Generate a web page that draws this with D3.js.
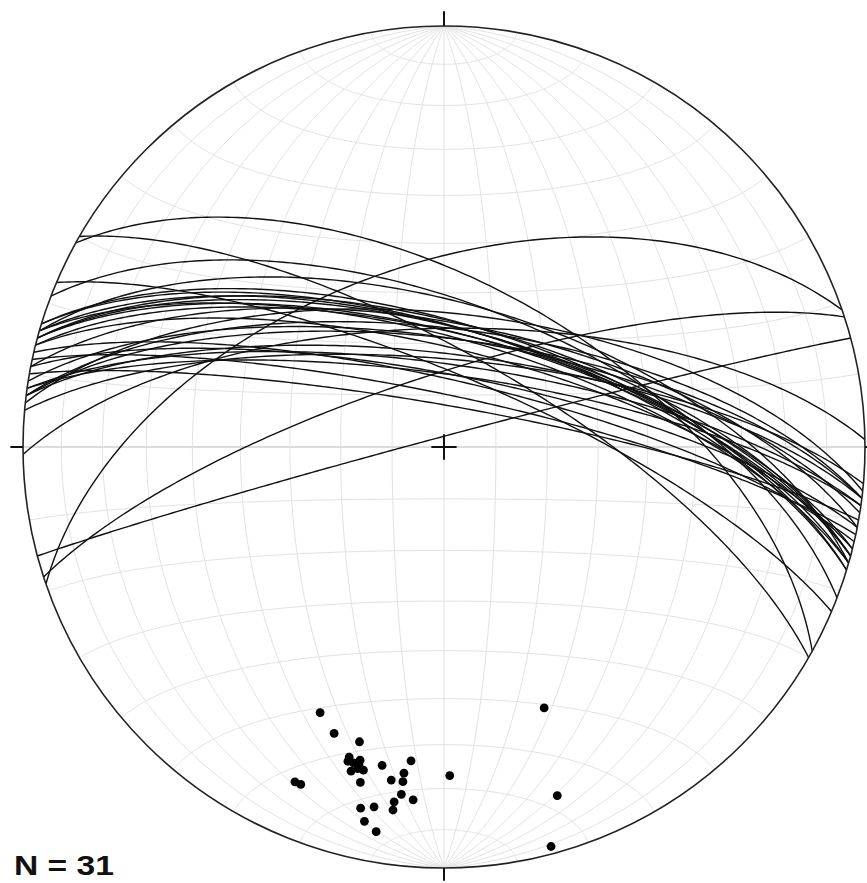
<!DOCTYPE html>
<html lang="en">
<head>
<meta charset="UTF-8" />
<title>Stereonet</title>
<script src="https://d3js.org/d3.v7.min.js"></script>
<style>
  body { margin: 0; background: #fff; }
  .grid { fill: none; stroke: #e2e2e2; stroke-width: 1; }
  .gc { fill: none; stroke: #111; stroke-width: 1.4; }
</style>
</head>
<body>
<script>
var W = 867, H = 883;
var cx = 444, cy = 447, R = 421;

// planes: dip direction / dip (deg)
var planeDipDir = [29, 21, 16, 17, 15, 15, 17, 11, 6, 7, 9, 7, 14, 30, 23, 7,
                   5, 8, 8, 11, 13, 12, 10, 359, 341, 342, 345, 16, 14, 16, 15];
var planeDip    = [58, 62, 62, 67, 66, 68, 66, 66, 64, 67, 69, 69, 71, 72, 76, 72,
                   73, 74, 76, 76, 77, 80, 82, 67, 54, 76, 88, 69, 68, 67, 67];

// poles: trend / plunge (deg)
var poleTrend  = [205, 201, 196, 197, 195, 195, 197, 191, 186, 187, 189, 187, 194, 204, 203, 187,
                  185, 188, 188, 191, 193, 192, 190, 179, 159, 162, 165, 196, 194, 196, 195];
var polePlunge = [31, 28, 28, 23, 24, 22, 24, 24, 26, 23, 21, 21, 19, 14, 14, 18,
                  17, 16, 14, 14, 13, 10, 8, 23, 34, 14, 2, 21, 22, 23, 23];

var gridStep = [10, 20, 30, 40, 50, 60, 70, 80, 100, 110, 120, 130, 140, 150, 160, 170];
var label = "N = 31";

var svg = d3.select("body").append("svg")
    .attr("width", W)
    .attr("height", H);

// unit net coords -> pixels
var xScale = d3.scaleLinear().domain([-1, 1]).range([cx - R, cx + R]);
var yScale = d3.scaleLinear().domain([-1, 1]).range([cy + R, cy - R]);
var rad = Math.PI / 180;

// equal-area (Schmidt) projection of a unit vector (east, north, down)
function project(v) {
    var e = v[0], n = v[1], d = v[2];
    if (d < 0) { e = -e; n = -n; d = -d; }
    var h = Math.sqrt(e * e + n * n);
    var plunge = Math.atan2(d, h);
    var r = Math.SQRT2 * Math.sin((Math.PI / 2 - plunge) / 2);
    var t = Math.atan2(e, n);
    return [r * Math.sin(t), r * Math.cos(t)];
}

var line = d3.line()
    .x(function(p) { return xScale(p[0]); })
    .y(function(p) { return yScale(p[1]); })
    .curve(d3.curveLinear);

function greatCircle(dd, dip) {
    var s = (dd - 90) * rad, a = dd * rad, b = dip * rad;
    var sv = [Math.sin(s), Math.cos(s), 0];
    var dv = [Math.cos(b) * Math.sin(a), Math.cos(b) * Math.cos(a), Math.sin(b)];
    return d3.range(0, 180.5, 1).map(function(th) {
        var c = Math.cos(th * rad), sn = Math.sin(th * rad);
        return project([c * sv[0] + sn * dv[0], c * sv[1] + sn * dv[1], c * sv[2] + sn * dv[2]]);
    });
}

// small circle around N-S axis at angle alpha from north
function smallCircle(alpha) {
    var al = alpha * rad;
    return d3.range(0, 180.5, 1).map(function(ph) {
        var p = ph * rad;
        return project([Math.sin(al) * Math.cos(p), Math.cos(al), Math.sin(al) * Math.sin(p)]);
    });
}

var defs = svg.append("defs");
defs.append("clipPath").attr("id", "net")
    .append("circle").attr("cx", cx).attr("cy", cy).attr("r", R);

var g = svg.append("g").attr("clip-path", "url(#net)");

// grid: meridians (N-S striking planes) and small circles
var meridians = [];
gridStep.filter(function(d) { return d < 90; }).forEach(function(d) {
    meridians.push(greatCircle(90, d));
    meridians.push(greatCircle(270, d));
});
g.selectAll(".mer").data(meridians).enter().append("path")
    .attr("class", "grid").attr("d", line);
g.selectAll(".par").data(gridStep).enter().append("path")
    .attr("class", "grid").attr("d", function(a) { return line(smallCircle(a)); });

// central axes
g.append("path").attr("class", "grid").style("stroke", "#dcdcdc").style("stroke-width", 2)
    .attr("d", line([[-1, 0], [1, 0]]));
g.append("path").attr("class", "grid").style("stroke", "#e0e0e0")
    .attr("d", line([[0, -1], [0, 1]]));

// great circles
var planes = planeDipDir.map(function(d, i) { return { dd: d, dip: planeDip[i] }; });
g.selectAll(".gc").data(planes).enter().append("path")
    .attr("class", "gc")
    .attr("d", function(p) { return line(greatCircle(p.dd, p.dip)); });

// primitive
svg.append("circle")
    .attr("cx", xScale(0)).attr("cy", yScale(0)).attr("r", xScale(1) - xScale(0))
    .attr("fill", "none").attr("stroke", "#222").attr("stroke-width", 1.6);

// ticks and centre cross
var ticks = [[[0, 1], [0, 1.035]], [[0, -1], [0, -1.03]], [[-1, 0], [-1.03, 0]], [[1, 0], [1.03, 0]],
             [[-0.03, 0], [0.03, 0]], [[0, -0.03], [0, 0.03]]];
svg.selectAll(".tick").data(ticks).enter().append("path")
    .attr("d", line).attr("stroke", "#111").attr("stroke-width", 2).attr("fill", "none");

// poles
var poles = poleTrend.map(function(t, i) {
    var tr = t * rad, pl = polePlunge[i] * rad;
    return project([Math.cos(pl) * Math.sin(tr), Math.cos(pl) * Math.cos(tr), Math.sin(pl)]);
});
svg.selectAll(".pole").data(poles).enter().append("circle")
    .attr("cx", function(p) { return xScale(p[0]); })
    .attr("cy", function(p) { return yScale(p[1]); })
    .attr("r", 4.4)
    .attr("fill", "#000");

svg.append("text")
    .attr("x", 14).attr("y", 875)
    .attr("font-family", "Liberation Sans, Arial, sans-serif")
    .attr("font-weight", "bold")
    .attr("font-size", 28)
    .attr("textLength", 100)
    .attr("lengthAdjust", "spacingAndGlyphs")
    .attr("fill", "#111")
    .text(label);
</script>
</body>
</html>
